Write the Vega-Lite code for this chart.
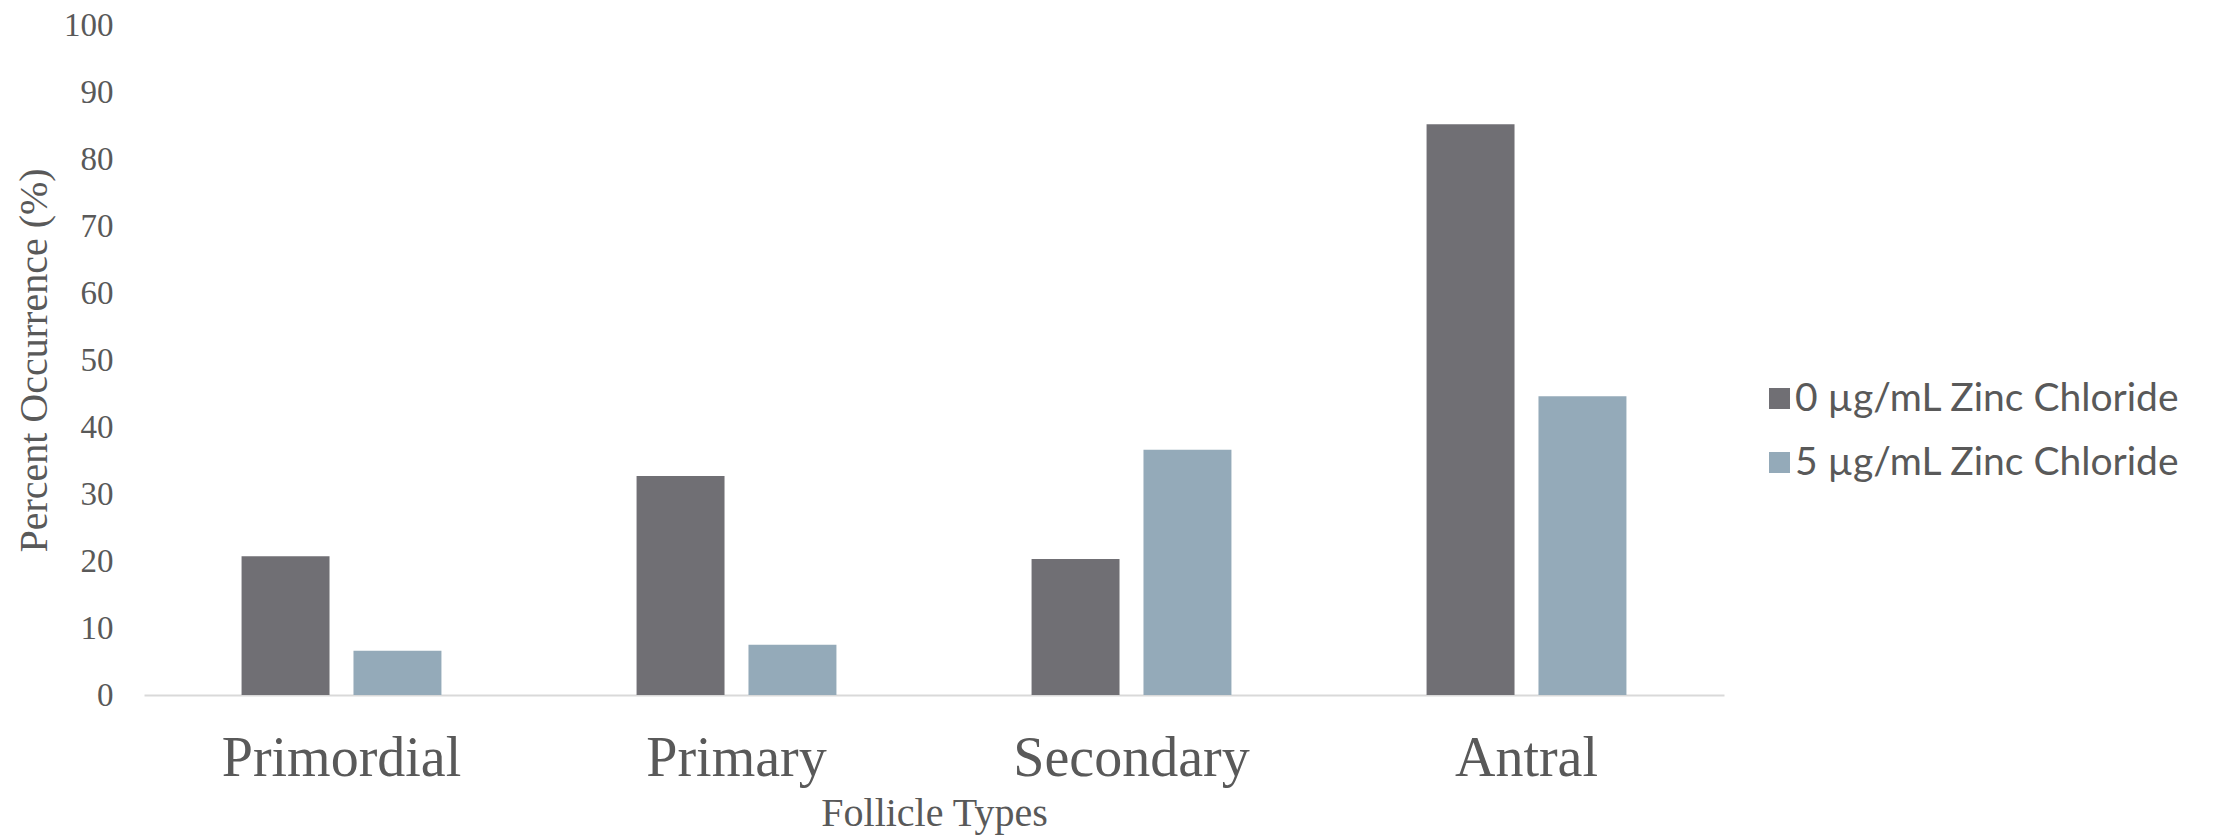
{
  "$schema": "https://vega.github.io/schema/vega-lite/v6.json",
  "autosize": "none",
  "padding": {"left": 144, "top": 25, "right": 514, "bottom": 140},
  "width": 1580,
  "height": 670,
  "background": "white",
  "config": {"view": {"stroke": null}},
  "data": {
    "values": [
      {"type": "Primordial", "group": "0 µg/mL Zinc Chloride", "value": 20.7},
      {"type": "Primordial", "group": "5 µg/mL Zinc Chloride", "value": 6.6},
      {"type": "Primary", "group": "0 µg/mL Zinc Chloride", "value": 32.7},
      {"type": "Primary", "group": "5 µg/mL Zinc Chloride", "value": 7.5},
      {"type": "Secondary", "group": "0 µg/mL Zinc Chloride", "value": 20.3},
      {"type": "Secondary", "group": "5 µg/mL Zinc Chloride", "value": 36.6},
      {"type": "Antral", "group": "0 µg/mL Zinc Chloride", "value": 85.2},
      {"type": "Antral", "group": "5 µg/mL Zinc Chloride", "value": 44.6}
    ]
  },
  "mark": {"type": "bar"},
  "encoding": {
    "x": {
      "field": "type",
      "type": "nominal",
      "sort": ["Primordial", "Primary", "Secondary", "Antral"],
      "scale": {"paddingInner": 0.494, "paddingOuter": 0.247},
      "axis": {
        "title": "Follicle Types",
        "titleFont": "Liberation Serif",
        "titleFontSize": 40,
        "titleFontWeight": "normal",
        "titleColor": "#595959",
        "titleBaseline": "alphabetic",
        "titleY": 130,
        "labelAngle": 0,
        "labelFont": "Liberation Serif",
        "labelFontSize": 56,
        "labelColor": "#595959",
        "labelPadding": 36,
        "labelLimit": 0,
        "ticks": false,
        "tickSize": 0,
        "domain": true,
        "domainColor": "#D9D9D9",
        "domainWidth": 2,
        "grid": false
      }
    },
    "xOffset": {
      "field": "group",
      "type": "nominal",
      "scale": {"paddingInner": 0.214, "paddingOuter": 0}
    },
    "y": {
      "field": "value",
      "type": "quantitative",
      "scale": {"domain": [0, 100]},
      "axis": {
        "title": "Percent Occurrence (%)",
        "titleFont": "Liberation Serif",
        "titleFontSize": 40,
        "titleFontWeight": "normal",
        "titleColor": "#595959",
        "titleAngle": -90,
        "titleBaseline": "middle",
        "titleAlign": "center",
        "titleX": -110,
        "titleY": 335,
        "values": [0, 10, 20, 30, 40, 50, 60, 70, 80, 90, 100],
        "labelFont": "Liberation Serif",
        "labelFontSize": 33,
        "labelColor": "#595959",
        "labelPadding": 31,
        "ticks": false,
        "tickSize": 0,
        "domain": false,
        "grid": false
      }
    },
    "color": {
      "field": "group",
      "type": "nominal",
      "scale": {
        "domain": ["0 µg/mL Zinc Chloride", "5 µg/mL Zinc Chloride"],
        "range": ["#706F74", "#94AAB9"]
      },
      "legend": {
        "title": null,
        "orient": "none",
        "legendX": 1616,
        "legendY": 354,
        "symbolType": "square",
        "symbolSize": 441,
        "symbolStrokeWidth": 0,
        "symbolOpacity": 1,
        "labelFont": "Lato",
        "labelFontSize": 39,
        "labelColor": "#595959",
        "labelOffset": -4,
        "rowPadding": 24,
        "labelLimit": 600
      }
    }
  }
}
